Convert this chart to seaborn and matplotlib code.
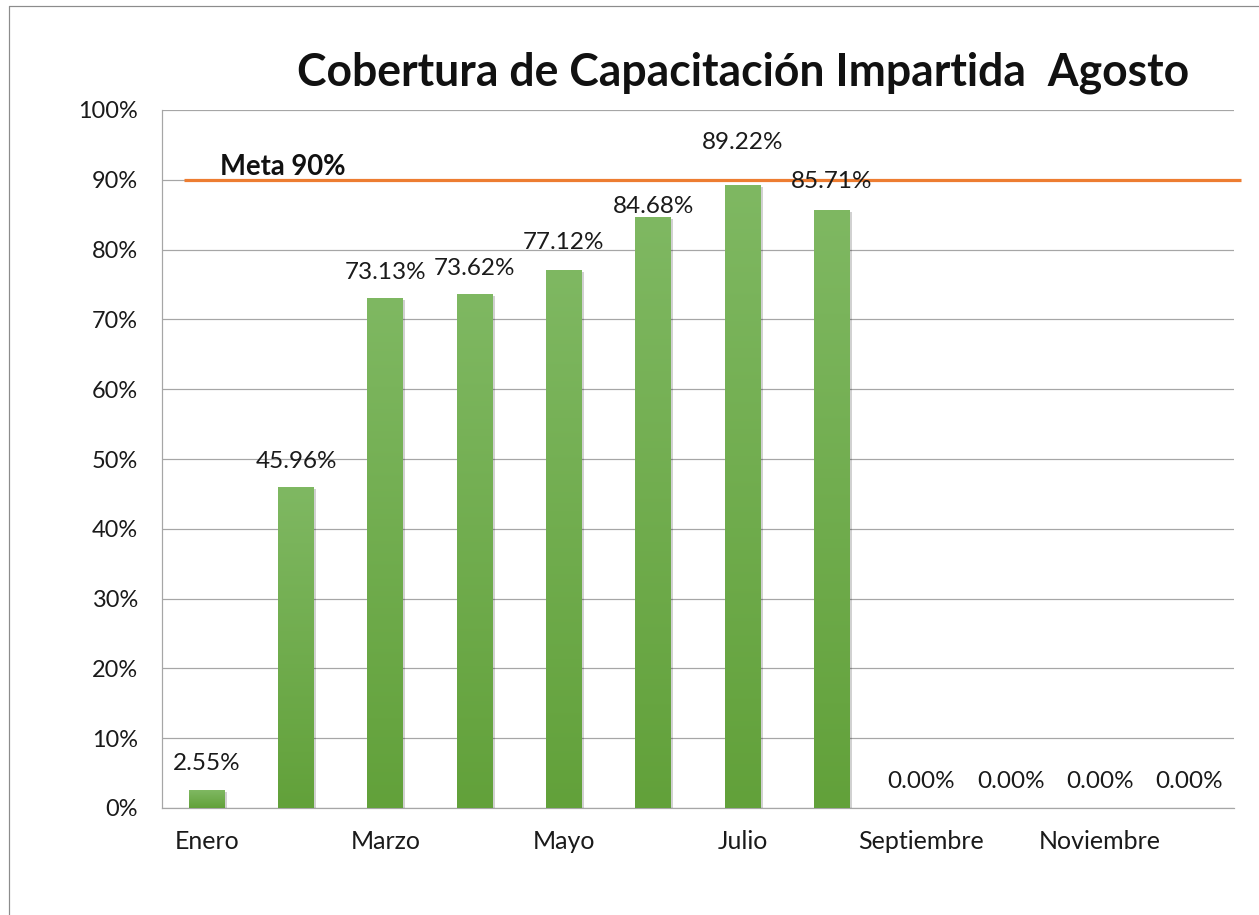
import numpy as np
import matplotlib
matplotlib.use("Agg")
import matplotlib.pyplot as plt
import matplotlib.patheffects as pe
from matplotlib.colors import LinearSegmentedColormap
import seaborn as sns

# ---- data ----
months = ["Enero", "Febrero", "Marzo", "Abril", "Mayo", "Junio", "Julio",
          "Agosto", "Septiembre", "Octubre", "Noviembre", "Diciembre"]
coverage = [0.0255, 0.4596, 0.7313, 0.7362, 0.7712, 0.8468, 0.8922,
            0.8571, 0.0, 0.0, 0.0, 0.0]
goal = 0.90
goal_label = "Meta 90%"
title = "Cobertura de Capacitación Impartida  Agosto"
y_ticks = [0.0, 0.1, 0.2, 0.3, 0.4, 0.5, 0.6, 0.7, 0.8, 0.9, 1.0]

# label placement tweaks (points offsets above bar top)
label_dy = [27, 26, 25, 26, 27, 10, 43, 28, 27, 27, 27, 27]

sns.set_theme(style="white")
plt.rcParams["font.family"] = ["Lato", "DejaVu Sans"]

DPI = 72
W, H = 1259, 915
fig = plt.figure(figsize=(W / DPI, H / DPI), dpi=DPI)
fig.patch.set_facecolor("white")

left, right, top, bottom = 162, 1234, 110, 808
ax = fig.add_axes([left / W, (H - bottom) / H, (right - left) / W, (bottom - top) / H])

sns.barplot(x=months, y=coverage, ax=ax, width=0.4, color="#6eaa48",
            saturation=1, zorder=3)

# gradient fill for each bar
cmap = LinearSegmentedColormap.from_list("g", ["#62a13a", "#7fb862"])
grad = np.linspace(0, 1, 256).reshape(-1, 1)
for p in ax.patches:
    x0, y0 = p.get_x(), p.get_y()
    w, h = p.get_width(), p.get_height()
    p.set_path_effects([pe.SimplePatchShadow(offset=(2, -2), shadow_rgbFace="#000000", alpha=0.18),
                        pe.Normal()])
    p.set_edgecolor("none")
    if h > 0:
        im = ax.imshow(grad, cmap=cmap, aspect="auto", origin="lower",
                       extent=[x0, x0 + w, y0, y0 + h], zorder=4)
        im.set_clip_path(p)
ax.set_xlim(-0.5, len(months) - 0.5)
ax.set_ylim(0, 1.0)

# grid and spines
ax.set_yticks(y_ticks)
ax.set_yticklabels([f"{int(round(t * 100))}%" for t in y_ticks])
ax.yaxis.grid(True, color="#a6a6a6", linewidth=1.2, zorder=0)
ax.xaxis.grid(False)
ax.set_axisbelow(True)
for s in ["top", "right"]:
    ax.spines[s].set_visible(False)
for s in ["left", "bottom"]:
    ax.spines[s].set_color("#a6a6a6")
    ax.spines[s].set_linewidth(1.2)

ax.set_xticks(range(len(months)))
ax.set_xticklabels([m if i % 2 == 0 else "" for i, m in enumerate(months)])
ax.tick_params(axis="x", length=0, pad=22, labelsize=25, colors="#1a1a1a")
ax.tick_params(axis="y", length=0, pad=24, labelsize=23.5, colors="#1a1a1a")
ax.set_xlabel("")
ax.set_ylabel("")

# data labels
for i, v in enumerate(coverage):
    ax.annotate(f"{v * 100:.2f}%", xy=(i, v), xytext=(0, label_dy[i]),
                textcoords="offset points", ha="center", va="center",
                fontsize=24.3, color="#1a1a1a", zorder=6)

# goal line
ax.plot([-0.254, 11.58], [goal, goal], color="#ED7D31", linewidth=3.2,
        clip_on=False, zorder=5, solid_capstyle="butt")
ax.text(0.15, 0.918, goal_label, fontsize=27.5, fontweight="bold", color="#111111",
        ha="left", va="center", zorder=6)

# title
fig.text(743 / W, 1 - 73 / H, title, fontsize=44.5, fontweight="bold",
         ha="center", va="center", color="#111111")

# outer border
fig.add_artist(plt.Line2D([9 / W, 9 / W], [0, 1 - 6 / H], transform=fig.transFigure,
                          color="#8c8c8c", linewidth=1.2))
fig.add_artist(plt.Line2D([9 / W, 1], [1 - 6 / H, 1 - 6 / H], transform=fig.transFigure,
                          color="#8c8c8c", linewidth=1.2))

fig.savefig("out.png", dpi=DPI, facecolor="white")
